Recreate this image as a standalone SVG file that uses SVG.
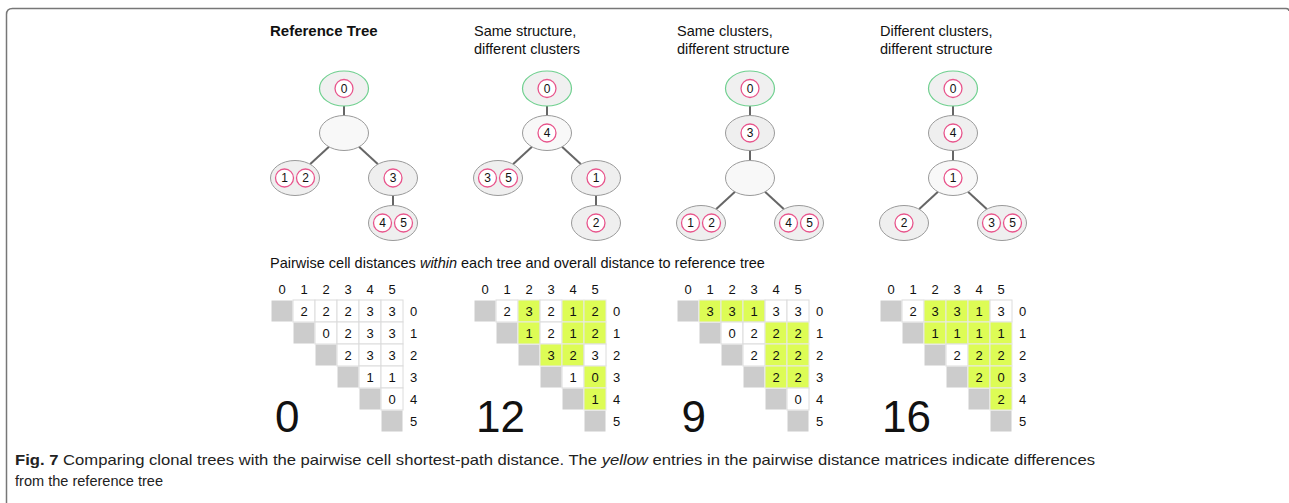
<svg xmlns="http://www.w3.org/2000/svg" width="1289" height="503" viewBox="0 0 1289 503">
<style>
text{font-family:"Liberation Sans",Arial,sans-serif;fill:#111}
.title{font-size:14.5px}
.bold{font-weight:bold;font-size:15px}
.n{fill:#efefef;stroke:#9a9a9a;stroke-width:1}
.b{fill:#f8f8f8;stroke:#9a9a9a;stroke-width:1}
.r{fill:#f0f0f0;stroke:#6fd08f;stroke-width:1.2}
.c{fill:#fff;stroke:#e8558c;stroke-width:1.3}
.cl{font-size:12px;text-anchor:middle}
.e{stroke:#666;stroke-width:2;fill:none}
.w{fill:#fff;stroke:#dcdcdc;stroke-width:1}
.y{fill:#ddfc55;stroke:#e8e8e8;stroke-width:1}
.g{fill:#cccccc;stroke:#fff;stroke-width:1}
.d{font-size:13px;text-anchor:middle}
.big{font-size:44px}
.cap{font-family:"Liberation Sans",Arial,sans-serif;font-size:14.5px;fill:#222}
</style>
<path d="M6.5,503 V14.5 Q6.5,8.5 12.5,8.5 H1286 Q1289,8.5 1289,11" fill="none" stroke="#777" stroke-width="1.5"/>

<!-- titles -->
<text class="bold" x="270" y="36">Reference Tree</text>
<text class="title" x="474" y="36">Same structure,</text>
<text class="title" x="474" y="54">different clusters</text>
<text class="title" x="677" y="36">Same clusters,</text>
<text class="title" x="677" y="54">different structure</text>
<text class="title" x="880" y="36">Different clusters,</text>
<text class="title" x="880" y="54">different structure</text>

<g id="connectors">
  <!-- tree 1 -->
  <line class="e" x1="344" y1="106" x2="344" y2="115.5"/>
  <line class="e" x1="329" y1="146.8" x2="310" y2="164.2"/>
  <line class="e" x1="359" y1="146.8" x2="378" y2="164.2"/>
  <line class="e" x1="393" y1="195.5" x2="393" y2="205.5"/>
  <!-- tree 2 -->
  <line class="e" x1="547" y1="106" x2="547" y2="115.5"/>
  <line class="e" x1="532" y1="146.8" x2="513" y2="164.2"/>
  <line class="e" x1="562" y1="146.8" x2="581" y2="164.2"/>
  <line class="e" x1="596" y1="195.5" x2="596" y2="205.5"/>
  <!-- tree 3 -->
  <line class="e" x1="750" y1="106" x2="750" y2="115.5"/>
  <line class="e" x1="750" y1="150.5" x2="750" y2="160.5"/>
  <line class="e" x1="735" y1="191.8" x2="716" y2="209.2"/>
  <line class="e" x1="765" y1="191.8" x2="784" y2="209.2"/>
  <!-- tree 4 -->
  <line class="e" x1="953" y1="106" x2="953" y2="115.5"/>
  <line class="e" x1="953" y1="150.5" x2="953" y2="160.5"/>
  <line class="e" x1="938" y1="191.8" x2="919" y2="209.2"/>
  <line class="e" x1="968" y1="191.8" x2="987" y2="209.2"/>
</g>

<!-- Tree 1 -->
<g id="t1-root"><ellipse class="r" cx="344" cy="88.5" rx="24.5" ry="17.5"/><circle class="c" cx="344" cy="88.5" r="9"/><text class="cl" x="344" y="92.8">0</text></g>
<g id="t1-mid"><ellipse class="b" cx="344" cy="133" rx="24.5" ry="17.5"/></g>
<g id="t1-l"><ellipse class="n" cx="295" cy="178" rx="24.5" ry="17.5"/><circle class="c" cx="284.5" cy="178" r="9"/><text class="cl" x="284.5" y="182.3">1</text><circle class="c" cx="305.5" cy="178" r="9"/><text class="cl" x="305.5" y="182.3">2</text></g>
<g id="t1-r"><ellipse class="n" cx="393" cy="178" rx="24.5" ry="17.5"/><circle class="c" cx="393" cy="178" r="9"/><text class="cl" x="393" y="182.3">3</text></g>
<g id="t1-rr"><ellipse class="n" cx="393" cy="223" rx="24.5" ry="17.5"/><circle class="c" cx="382.5" cy="223" r="9"/><text class="cl" x="382.5" y="227.3">4</text><circle class="c" cx="403.5" cy="223" r="9"/><text class="cl" x="403.5" y="227.3">5</text></g>

<!-- Tree 2 -->
<g id="t2-root"><ellipse class="r" cx="547" cy="88.5" rx="24.5" ry="17.5"/><circle class="c" cx="547" cy="88.5" r="9"/><text class="cl" x="547" y="92.8">0</text></g>
<g id="t2-mid"><ellipse class="b" cx="547" cy="133" rx="24.5" ry="17.5"/><circle class="c" cx="547" cy="133" r="9"/><text class="cl" x="547" y="137.3">4</text></g>
<g id="t2-l"><ellipse class="n" cx="498" cy="178" rx="24.5" ry="17.5"/><circle class="c" cx="487.5" cy="178" r="9"/><text class="cl" x="487.5" y="182.3">3</text><circle class="c" cx="508.5" cy="178" r="9"/><text class="cl" x="508.5" y="182.3">5</text></g>
<g id="t2-r"><ellipse class="n" cx="596" cy="178" rx="24.5" ry="17.5"/><circle class="c" cx="596" cy="178" r="9"/><text class="cl" x="596" y="182.3">1</text></g>
<g id="t2-rr"><ellipse class="n" cx="596" cy="223" rx="24.5" ry="17.5"/><circle class="c" cx="596" cy="223" r="9"/><text class="cl" x="596" y="227.3">2</text></g>

<!-- Tree 3 -->
<g id="t3-root"><ellipse class="r" cx="750" cy="88.5" rx="24.5" ry="17.5"/><circle class="c" cx="750" cy="88.5" r="9"/><text class="cl" x="750" y="92.8">0</text></g>
<g id="t3-n3"><ellipse class="n" cx="750" cy="133" rx="24.5" ry="17.5"/><circle class="c" cx="750" cy="133" r="9"/><text class="cl" x="750" y="137.3">3</text></g>
<g id="t3-mid"><ellipse class="b" cx="750" cy="178" rx="24.5" ry="17.5"/></g>
<g id="t3-l"><ellipse class="n" cx="701" cy="223" rx="24.5" ry="17.5"/><circle class="c" cx="690.5" cy="223" r="9"/><text class="cl" x="690.5" y="227.3">1</text><circle class="c" cx="711.5" cy="223" r="9"/><text class="cl" x="711.5" y="227.3">2</text></g>
<g id="t3-r"><ellipse class="n" cx="799" cy="223" rx="24.5" ry="17.5"/><circle class="c" cx="788.5" cy="223" r="9"/><text class="cl" x="788.5" y="227.3">4</text><circle class="c" cx="809.5" cy="223" r="9"/><text class="cl" x="809.5" y="227.3">5</text></g>

<!-- Tree 4 -->
<g id="t4-root"><ellipse class="r" cx="953" cy="88.5" rx="24.5" ry="17.5"/><circle class="c" cx="953" cy="88.5" r="9"/><text class="cl" x="953" y="92.8">0</text></g>
<g id="t4-n4"><ellipse class="n" cx="953" cy="133" rx="24.5" ry="17.5"/><circle class="c" cx="953" cy="133" r="9"/><text class="cl" x="953" y="137.3">4</text></g>
<g id="t4-n1"><ellipse class="b" cx="953" cy="178" rx="24.5" ry="17.5"/><circle class="c" cx="953" cy="178" r="9"/><text class="cl" x="953" y="182.3">1</text></g>
<g id="t4-l"><ellipse class="n" cx="904" cy="223" rx="24.5" ry="17.5"/><circle class="c" cx="904" cy="223" r="9"/><text class="cl" x="904" y="227.3">2</text></g>
<g id="t4-r"><ellipse class="n" cx="1002" cy="223" rx="24.5" ry="17.5"/><circle class="c" cx="991.5" cy="223" r="9"/><text class="cl" x="991.5" y="227.3">3</text><circle class="c" cx="1012.5" cy="223" r="9"/><text class="cl" x="1012.5" y="227.3">5</text></g>

<text class="title" x="270" y="268">Pairwise cell distances <tspan font-style="italic">within</tspan> each tree and overall distance to reference tree</text>

<!-- Matrix 1 -->
<g id="m1" transform="translate(271,300)">
<text class="d" x="11" y="-6.5">0</text><text class="d" x="33" y="-6.5">1</text><text class="d" x="55" y="-6.5">2</text><text class="d" x="77" y="-6.5">3</text><text class="d" x="99" y="-6.5">4</text><text class="d" x="121" y="-6.5">5</text>
<text class="d" x="142.5" y="15.5">0</text><text class="d" x="142.5" y="37.5">1</text><text class="d" x="142.5" y="59.5">2</text><text class="d" x="142.5" y="81.5">3</text><text class="d" x="142.5" y="103.5">4</text><text class="d" x="142.5" y="125.5">5</text>
<rect class="g" x="0" y="0" width="22" height="22"/><rect class="g" x="22" y="22" width="22" height="22"/><rect class="g" x="44" y="44" width="22" height="22"/><rect class="g" x="66" y="66" width="22" height="22"/><rect class="g" x="88" y="88" width="22" height="22"/><rect class="g" x="110" y="110" width="22" height="22"/>
<rect class="w" x="22" y="0" width="22" height="22"/><text class="d" x="33" y="15.5">2</text>
<rect class="w" x="44" y="0" width="22" height="22"/><text class="d" x="55" y="15.5">2</text>
<rect class="w" x="66" y="0" width="22" height="22"/><text class="d" x="77" y="15.5">2</text>
<rect class="w" x="88" y="0" width="22" height="22"/><text class="d" x="99" y="15.5">3</text>
<rect class="w" x="110" y="0" width="22" height="22"/><text class="d" x="121" y="15.5">3</text>
<rect class="w" x="44" y="22" width="22" height="22"/><text class="d" x="55" y="37.5">0</text>
<rect class="w" x="66" y="22" width="22" height="22"/><text class="d" x="77" y="37.5">2</text>
<rect class="w" x="88" y="22" width="22" height="22"/><text class="d" x="99" y="37.5">3</text>
<rect class="w" x="110" y="22" width="22" height="22"/><text class="d" x="121" y="37.5">3</text>
<rect class="w" x="66" y="44" width="22" height="22"/><text class="d" x="77" y="59.5">2</text>
<rect class="w" x="88" y="44" width="22" height="22"/><text class="d" x="99" y="59.5">3</text>
<rect class="w" x="110" y="44" width="22" height="22"/><text class="d" x="121" y="59.5">3</text>
<rect class="w" x="88" y="66" width="22" height="22"/><text class="d" x="99" y="81.5">1</text>
<rect class="w" x="110" y="66" width="22" height="22"/><text class="d" x="121" y="81.5">1</text>
<rect class="w" x="110" y="88" width="22" height="22"/><text class="d" x="121" y="103.5">0</text>
<text class="big" x="4" y="131.7">0</text>
</g>

<!-- Matrix 2 -->
<g id="m2" transform="translate(474,300)">
<text class="d" x="11" y="-6.5">0</text><text class="d" x="33" y="-6.5">1</text><text class="d" x="55" y="-6.5">2</text><text class="d" x="77" y="-6.5">3</text><text class="d" x="99" y="-6.5">4</text><text class="d" x="121" y="-6.5">5</text>
<text class="d" x="142.5" y="15.5">0</text><text class="d" x="142.5" y="37.5">1</text><text class="d" x="142.5" y="59.5">2</text><text class="d" x="142.5" y="81.5">3</text><text class="d" x="142.5" y="103.5">4</text><text class="d" x="142.5" y="125.5">5</text>
<rect class="g" x="0" y="0" width="22" height="22"/><rect class="g" x="22" y="22" width="22" height="22"/><rect class="g" x="44" y="44" width="22" height="22"/><rect class="g" x="66" y="66" width="22" height="22"/><rect class="g" x="88" y="88" width="22" height="22"/><rect class="g" x="110" y="110" width="22" height="22"/>
<rect class="w" x="22" y="0" width="22" height="22"/><text class="d" x="33" y="15.5">2</text>
<rect class="y" x="44" y="0" width="22" height="22"/><text class="d" x="55" y="15.5">3</text>
<rect class="w" x="66" y="0" width="22" height="22"/><text class="d" x="77" y="15.5">2</text>
<rect class="y" x="88" y="0" width="22" height="22"/><text class="d" x="99" y="15.5">1</text>
<rect class="y" x="110" y="0" width="22" height="22"/><text class="d" x="121" y="15.5">2</text>
<rect class="y" x="44" y="22" width="22" height="22"/><text class="d" x="55" y="37.5">1</text>
<rect class="w" x="66" y="22" width="22" height="22"/><text class="d" x="77" y="37.5">2</text>
<rect class="y" x="88" y="22" width="22" height="22"/><text class="d" x="99" y="37.5">1</text>
<rect class="y" x="110" y="22" width="22" height="22"/><text class="d" x="121" y="37.5">2</text>
<rect class="y" x="66" y="44" width="22" height="22"/><text class="d" x="77" y="59.5">3</text>
<rect class="y" x="88" y="44" width="22" height="22"/><text class="d" x="99" y="59.5">2</text>
<rect class="w" x="110" y="44" width="22" height="22"/><text class="d" x="121" y="59.5">3</text>
<rect class="w" x="88" y="66" width="22" height="22"/><text class="d" x="99" y="81.5">1</text>
<rect class="y" x="110" y="66" width="22" height="22"/><text class="d" x="121" y="81.5">0</text>
<rect class="y" x="110" y="88" width="22" height="22"/><text class="d" x="121" y="103.5">1</text>
<text class="big" x="2" y="131.7">12</text>
</g>

<!-- Matrix 3 -->
<g id="m3" transform="translate(677,300)">
<text class="d" x="11" y="-6.5">0</text><text class="d" x="33" y="-6.5">1</text><text class="d" x="55" y="-6.5">2</text><text class="d" x="77" y="-6.5">3</text><text class="d" x="99" y="-6.5">4</text><text class="d" x="121" y="-6.5">5</text>
<text class="d" x="142.5" y="15.5">0</text><text class="d" x="142.5" y="37.5">1</text><text class="d" x="142.5" y="59.5">2</text><text class="d" x="142.5" y="81.5">3</text><text class="d" x="142.5" y="103.5">4</text><text class="d" x="142.5" y="125.5">5</text>
<rect class="g" x="0" y="0" width="22" height="22"/><rect class="g" x="22" y="22" width="22" height="22"/><rect class="g" x="44" y="44" width="22" height="22"/><rect class="g" x="66" y="66" width="22" height="22"/><rect class="g" x="88" y="88" width="22" height="22"/><rect class="g" x="110" y="110" width="22" height="22"/>
<rect class="y" x="22" y="0" width="22" height="22"/><text class="d" x="33" y="15.5">3</text>
<rect class="y" x="44" y="0" width="22" height="22"/><text class="d" x="55" y="15.5">3</text>
<rect class="y" x="66" y="0" width="22" height="22"/><text class="d" x="77" y="15.5">1</text>
<rect class="w" x="88" y="0" width="22" height="22"/><text class="d" x="99" y="15.5">3</text>
<rect class="w" x="110" y="0" width="22" height="22"/><text class="d" x="121" y="15.5">3</text>
<rect class="w" x="44" y="22" width="22" height="22"/><text class="d" x="55" y="37.5">0</text>
<rect class="w" x="66" y="22" width="22" height="22"/><text class="d" x="77" y="37.5">2</text>
<rect class="y" x="88" y="22" width="22" height="22"/><text class="d" x="99" y="37.5">2</text>
<rect class="y" x="110" y="22" width="22" height="22"/><text class="d" x="121" y="37.5">2</text>
<rect class="w" x="66" y="44" width="22" height="22"/><text class="d" x="77" y="59.5">2</text>
<rect class="y" x="88" y="44" width="22" height="22"/><text class="d" x="99" y="59.5">2</text>
<rect class="y" x="110" y="44" width="22" height="22"/><text class="d" x="121" y="59.5">2</text>
<rect class="y" x="88" y="66" width="22" height="22"/><text class="d" x="99" y="81.5">2</text>
<rect class="y" x="110" y="66" width="22" height="22"/><text class="d" x="121" y="81.5">2</text>
<rect class="w" x="110" y="88" width="22" height="22"/><text class="d" x="121" y="103.5">0</text>
<text class="big" x="4.5" y="131.7">9</text>
</g>

<!-- Matrix 4 -->
<g id="m4" transform="translate(880,300)">
<text class="d" x="11" y="-6.5">0</text><text class="d" x="33" y="-6.5">1</text><text class="d" x="55" y="-6.5">2</text><text class="d" x="77" y="-6.5">3</text><text class="d" x="99" y="-6.5">4</text><text class="d" x="121" y="-6.5">5</text>
<text class="d" x="142.5" y="15.5">0</text><text class="d" x="142.5" y="37.5">1</text><text class="d" x="142.5" y="59.5">2</text><text class="d" x="142.5" y="81.5">3</text><text class="d" x="142.5" y="103.5">4</text><text class="d" x="142.5" y="125.5">5</text>
<rect class="g" x="0" y="0" width="22" height="22"/><rect class="g" x="22" y="22" width="22" height="22"/><rect class="g" x="44" y="44" width="22" height="22"/><rect class="g" x="66" y="66" width="22" height="22"/><rect class="g" x="88" y="88" width="22" height="22"/><rect class="g" x="110" y="110" width="22" height="22"/>
<rect class="w" x="22" y="0" width="22" height="22"/><text class="d" x="33" y="15.5">2</text>
<rect class="y" x="44" y="0" width="22" height="22"/><text class="d" x="55" y="15.5">3</text>
<rect class="y" x="66" y="0" width="22" height="22"/><text class="d" x="77" y="15.5">3</text>
<rect class="y" x="88" y="0" width="22" height="22"/><text class="d" x="99" y="15.5">1</text>
<rect class="w" x="110" y="0" width="22" height="22"/><text class="d" x="121" y="15.5">3</text>
<rect class="y" x="44" y="22" width="22" height="22"/><text class="d" x="55" y="37.5">1</text>
<rect class="y" x="66" y="22" width="22" height="22"/><text class="d" x="77" y="37.5">1</text>
<rect class="y" x="88" y="22" width="22" height="22"/><text class="d" x="99" y="37.5">1</text>
<rect class="y" x="110" y="22" width="22" height="22"/><text class="d" x="121" y="37.5">1</text>
<rect class="w" x="66" y="44" width="22" height="22"/><text class="d" x="77" y="59.5">2</text>
<rect class="y" x="88" y="44" width="22" height="22"/><text class="d" x="99" y="59.5">2</text>
<rect class="y" x="110" y="44" width="22" height="22"/><text class="d" x="121" y="59.5">2</text>
<rect class="y" x="88" y="66" width="22" height="22"/><text class="d" x="99" y="81.5">2</text>
<rect class="y" x="110" y="66" width="22" height="22"/><text class="d" x="121" y="81.5">0</text>
<rect class="y" x="110" y="88" width="22" height="22"/><text class="d" x="121" y="103.5">2</text>
<text class="big" x="2" y="131.7">16</text>
</g>

<text class="cap" x="15" y="465" textLength="1080" lengthAdjust="spacingAndGlyphs"><tspan font-weight="bold">Fig. 7</tspan> Comparing clonal trees with the pairwise cell shortest-path distance. The <tspan font-style="italic">yellow</tspan> entries in the pairwise distance matrices indicate differences</text>
<text class="cap" x="15" y="486" textLength="148" lengthAdjust="spacingAndGlyphs">from the reference tree</text>
</svg>
